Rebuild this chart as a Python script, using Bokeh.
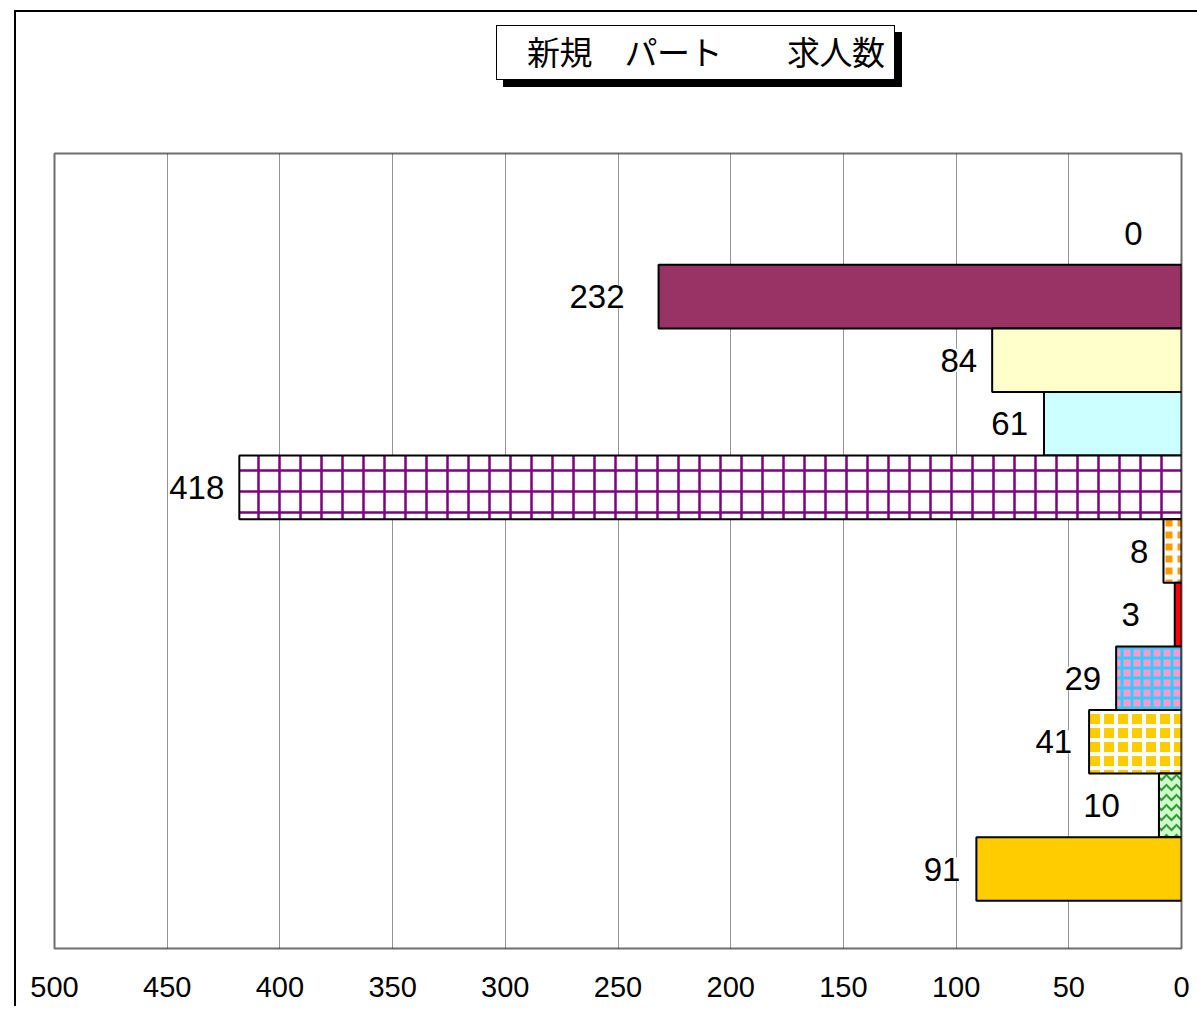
from bokeh.plotting import figure
from bokeh.models import ColumnDataSource, Range1d, FixedTicker, LabelSet, Div
from bokeh.layouts import column
from bokeh.core.properties import value
from bokeh.embed import file_html
from bokeh.resources import INLINE

# ---- data ----
title_text = "新規　パート　　求人数"
values = [0, 232, 84, 61, 418, 8, 3, 29, 41, 10, 91]
value_labels = [str(v) for v in values]
tick_values = [500, 450, 400, 350, 300, 250, 200, 150, 100, 50, 0]
tick_labels = [str(t) for t in tick_values]

# ---- styles (one entry per bar) ----
fill_colors = ["#FFFFFF", "#993366", "#FFFFCC", "#CCFFFF", "#FFFFFF", "#FF9900",
               "#FF0000", "#FF99CC", "#FFCC00", "#CCFFCC", "#FFCC00"]
hatch_patterns = [" ", " ", " ", " ", "+", "+", " ", "+", "+", "v", " "]
hatch_colors = ["#000000", "#000000", "#000000", "#000000", "#800080", "#FFFFFF",
                "#000000", "#33CCFF", "#FFFFFF", "#339933", "#000000"]
hatch_scales = [12, 12, 12, 12, 21, 12, 12, 10, 14, 10, 12]
hatch_weights = [1, 1, 1, 1, 2.5, 5, 1, 3, 4, 2, 1]
label_gap_px = [39, 34, 15, 16, 15, 15, 35, 15, 17, 39, 16]

idx = list(range(len(values)))
src = ColumnDataSource(dict(
    y=idx, v=values, lab=value_labels, fc=fill_colors, hp=hatch_patterns,
    hc=hatch_colors, hs=hatch_scales, hw=hatch_weights,
    la=[0 if v == 0 else 1 for v in values],
    xo=[-g for g in label_gap_px],
))

FRAME_H = 795
p = figure(
    width=1181, frame_height=FRAME_H,
    x_range=Range1d(500, 0), y_range=Range1d(11.25, -1.25),
    output_backend="svg", toolbar_location=None,
    min_border_left=38, min_border_right=16, min_border_top=51, min_border_bottom=58,
    background_fill_color="white", border_fill_color="white",
)
p.outline_line_color = "#6E6E6E"
p.outline_line_width = 2

p.yaxis.visible = False
p.ygrid.visible = False
p.xgrid.grid_line_color = "#2A2A2A"
p.xgrid.grid_line_width = 1
p.xgrid.grid_line_dash = "1 1"

xa = p.xaxis[0]
xa.ticker = FixedTicker(ticks=tick_values)
xa.major_label_overrides = {t: l for t, l in zip(tick_values, tick_labels)}
xa.axis_line_color = None
xa.major_tick_line_color = None
xa.minor_tick_line_color = None
xa.major_tick_out = 0
xa.major_label_standoff = 28
xa.major_label_text_font = "Liberation Sans"
xa.major_label_text_font_size = "29px"
xa.major_label_text_color = "black"

p.hbar(y="y", right="v", left=0, height=1.0, source=src,
       fill_color="fc", line_color="black", line_width=2, line_alpha="la",
       hatch_pattern="hp", hatch_color="hc", hatch_scale="hs", hatch_weight="hw")

labels = LabelSet(x="v", y="y", text="lab", source=src, x_offset="xo",
                  text_align="right", text_baseline="middle",
                  text_font=value("Liberation Sans"), text_font_size=value("33px"),
                  text_color="black", background_fill_color="white")
p.add_layout(labels)

title_html = (
    '<div style="position:relative; margin:0; padding:0; width:1181px; height:90px;">'
    '<div style="position:absolute; left:480px; top:13px; width:399px; height:55px; '
    'box-sizing:border-box; border:1.5px solid black; background:white; '
    'box-shadow:7px 7px 0 black; font-family:\'Noto Sans CJK JP\'; font-size:33px; '
    'line-height:50px; padding-left:30px; white-space:pre; color:black; '
    'letter-spacing:-0.5px;">'
    + title_text + '</div></div>'
)
title_div = Div(text=title_html, width=1181, height=90, margin=0)

page = column(title_div, p, margin=(10, 0, 0, 14), spacing=0,
              styles={"border-left": "2.5px solid black",
                      "border-top": "2.5px solid black"})

open("out.html", "w").write(file_html(page, INLINE))
